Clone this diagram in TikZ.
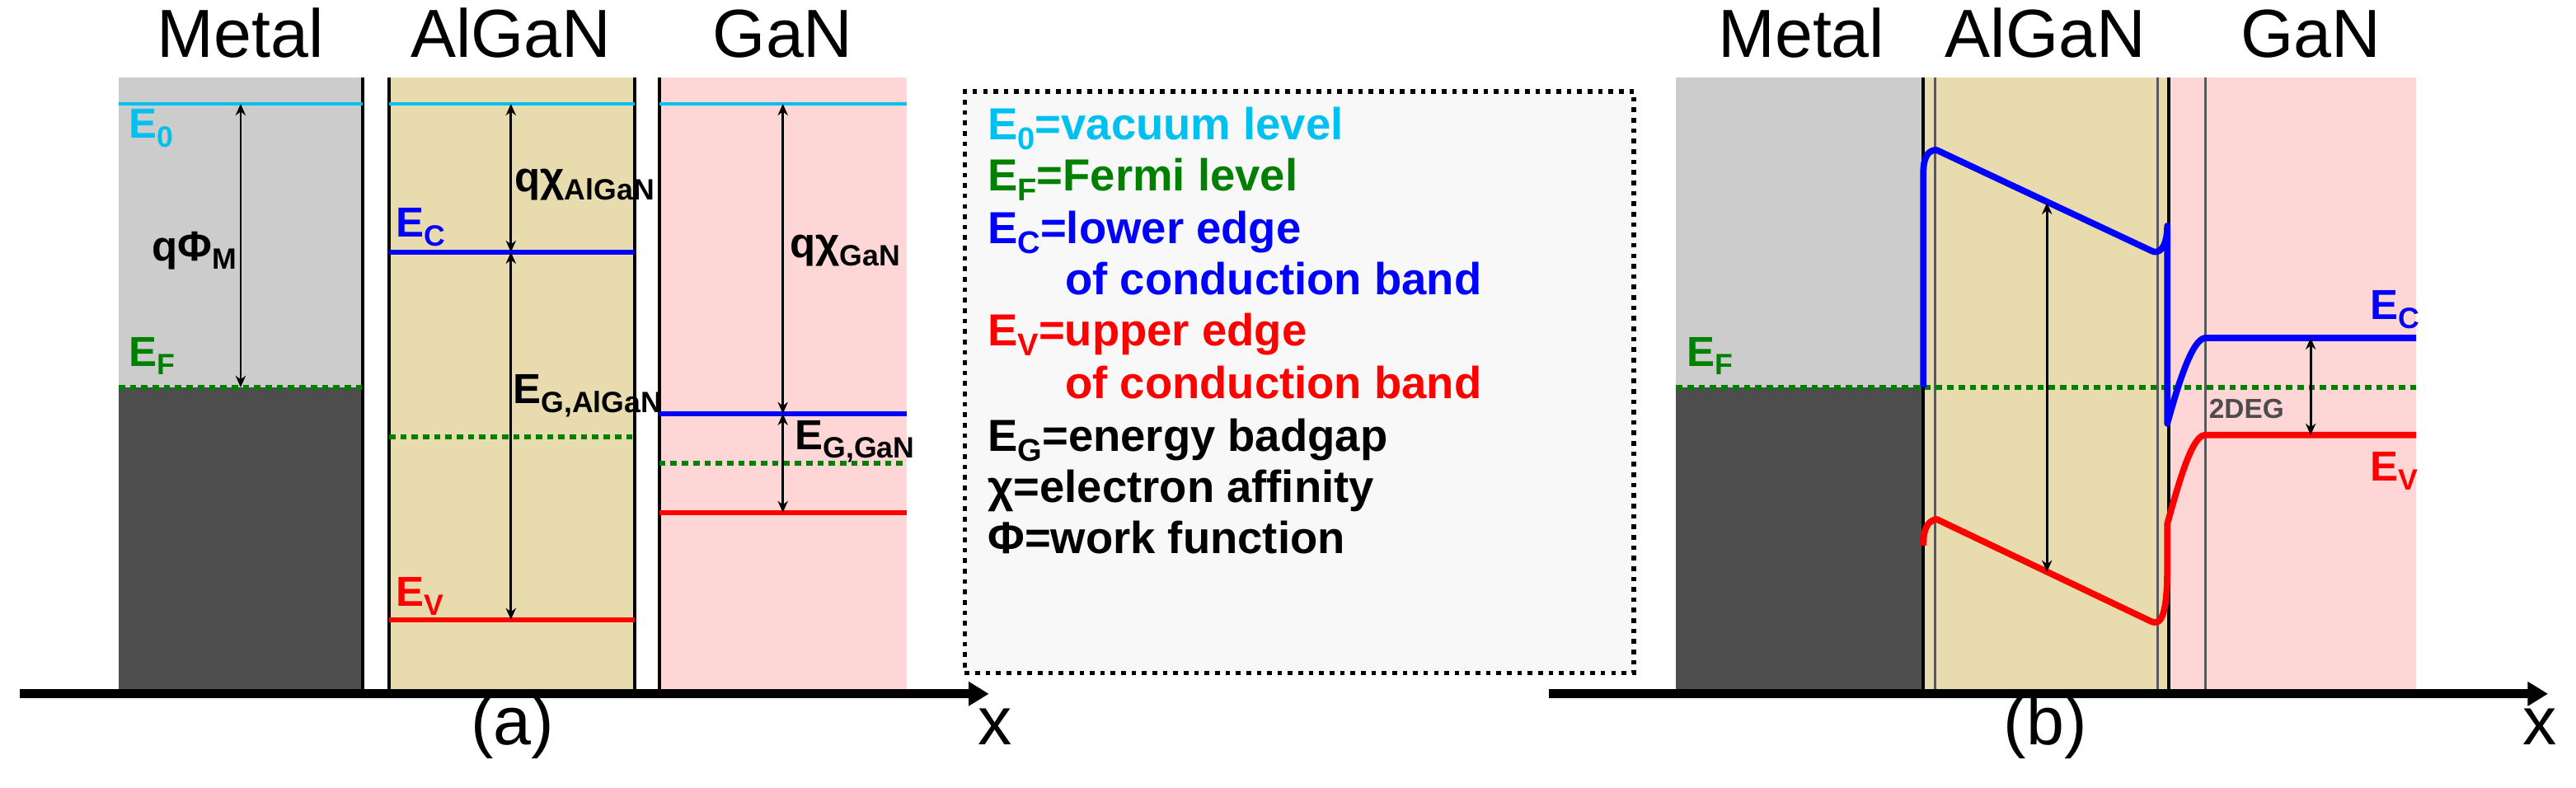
\documentclass[tikz,border=0pt]{standalone}
\usepackage{fontspec}
\setmainfont{Liberation Sans}
\usepackage{graphicx}
\usetikzlibrary{arrows.meta}
\definecolor{cE}{HTML}{00C0F0}
\definecolor{cF}{HTML}{008000}
\definecolor{metL}{HTML}{CCCCCC}
\definecolor{metD}{HTML}{4D4D4D}
\definecolor{alg}{HTML}{E8DCAF}
\definecolor{gan}{HTML}{FFD6D6}
\definecolor{leg}{HTML}{F8F8F8}
\newcommand{\lsb}[1]{\raisebox{-0.4ex}{\scalebox{0.7}{#1}}}
\tikzset{
 title/.style={font=\fontsize{23.5}{26}\selectfont, anchor=base},
 lab/.style={font=\bfseries\fontsize{14.5}{16}\selectfont, inner sep=0pt},
 band/.style={line width=1.8pt},
 curve/.style={line width=2.2pt, line join=round},
 fermi/.style={cF, line width=1.8pt, dash pattern=on 2.2pt off 1.7pt},
 sep/.style={black, line width=1.2pt},
 thin/.style={gray!70!black, line width=0.8pt},
 dim/.style={{Stealth[length=4pt,width=3.5pt]}-{Stealth[length=4pt,width=3.5pt]}, line width=0.8pt},
 axis/.style={line width=3pt, -{Triangle[length=7pt,width=8pt]}},
 legtxt/.style={font=\bfseries\fontsize{15.5}{18}\selectfont, anchor=base west, inner sep=0pt}
}
\begin{document}
\begin{tikzpicture}[x=0.02cm,y=-0.02cm]
\useasboundingbox (0,0) rectangle (1563,478);
% ---------- panel (a)
\fill[metL] (72,47) rectangle (220,235);
\fill[metD] (72,235) rectangle (220,420);
\fill[alg] (236,47) rectangle (385,420);
\fill[gan] (400,47) rectangle (550,420);
\draw[sep] (220,47) -- (220,420);
\draw[sep] (236,47) -- (236,420);
\draw[sep] (385,47) -- (385,420);
\draw[sep] (400,47) -- (400,420);
\node[title] (tMa) at (146,35) {Metal};
\node[title] (tAa) at (310,35) {AlGaN};
\node[title] (tGa) at (475,35) {GaN};
\draw[cE, line width=1.3pt] (72,63) -- (220,63) (236,63) -- (385,63) (400,63) -- (550,63);
\draw[fermi] (72,235) -- (220,235);
\draw[fermi] (236,265) -- (385,265);
\draw[fermi] (400,281) -- (550,281);
\draw[band, blue] (236,153) -- (385,153);
\draw[band, red] (236,376) -- (385,376);
\draw[band, blue] (400,251) -- (550,251);
\draw[band, red] (400,311) -- (550,311);
\coordinate (m0) at (146,63); \coordinate (mF) at (146,235);
\coordinate (a0) at (310,63); \coordinate (aC) at (310,153); \coordinate (aV) at (310,376);
\coordinate (g0) at (475,63); \coordinate (gC) at (475,251); \coordinate (gV) at (475,311);
\draw[dim] (m0) -- (mF);
\draw[dim] (a0) -- (aC);
\draw[dim] (aC) -- (aV);
\draw[dim] (g0) -- (gC);
\draw[dim] (gC) -- (gV);
\node[lab, cE, anchor=west] (lE0) at (78,78) {E\lsb{0}};
\node[lab, anchor=west] (lphi) at (92,152) {qΦ\lsb{M}};
\node[lab, cF, anchor=west] (lEF) at (78,216) {E\lsb{F}};
\node[lab, anchor=west] (lchiA) at (312,112) {qχ\lsb{AlGaN}};
\node[lab, blue, anchor=west] (lECa) at (240,138) {E\lsb{C}};
\node[lab, anchor=west] (lEGa) at (311,240) {E\lsb{G,AlGaN}};
\node[lab, red, anchor=west] (lEVa) at (240,362) {E\lsb{V}};
\node[lab, anchor=west] (lchiG) at (479,152) {qχ\lsb{GaN}};
\node[lab, anchor=west] (lEGg) at (482,268) {E\lsb{G,GaN}};
\coordinate (axa0) at (12,421); \coordinate (axa1) at (600,421);
\draw[axis] (axa0) -- (axa1);
\node[title] (xa) at (604,452) {x};
\node[title] (pa) at (311,452) {(a)};
% ---------- legend
\node[draw, dotted, line width=1.6pt, fill=leg, minimum width=406*0.02cm, minimum height=353*0.02cm, anchor=north west] (legend) at (584,54) {};
\node[legtxt, cE] (l1) at (599,85) {E\lsb{0}=vacuum level};
\node[legtxt, cF] (l2) at (599,116) {E\lsb{F}=Fermi level};
\node[legtxt, blue] (l3) at (599,148) {E\lsb{C}=lower edge};
\node[legtxt, blue] (l4) at (646,179) {of conduction band};
\node[legtxt, red] (l5) at (599,210) {E\lsb{V}=upper edge};
\node[legtxt, red] (l6) at (646,242) {of conduction band};
\node[legtxt] (l7) at (599,274) {E\lsb{G}=energy badgap};
\node[legtxt] (l8) at (599,305) {χ=electron affinity};
\node[legtxt] (l9) at (599,336) {Φ=work function};
% ---------- panel (b)
\fill[metL] (1017,47) rectangle (1167,235);
\fill[metD] (1017,235) rectangle (1167,420);
\fill[alg] (1167,47) rectangle (1316,420);
\fill[gan] (1316,47) rectangle (1466,420);
\draw[sep] (1167,47) -- (1167,420);
\draw[sep] (1316,47) -- (1316,420);
\draw[thin] (1174,47) -- (1174,420);
\draw[thin] (1309,47) -- (1309,420);
\draw[thin] (1338,47) -- (1338,420);
\node[title] (tMb) at (1093,35) {Metal};
\node[title] (tAb) at (1241,35) {AlGaN};
\node[title] (tGb) at (1402,35) {GaN};
\draw[fermi] (1017,235) -- (1466,235);
\draw[curve, blue] (1167,235) -- (1167,105) .. controls (1167,95) and (1170,91) .. (1175,91) -- (1305,152) .. controls (1310,155) and (1315,150) .. (1315,137) -- (1315,257) .. controls (1322,232) and (1330,206) .. (1338,205) -- (1466,205);
\draw[curve, red] (1167,331) .. controls (1167,320) and (1170,316) .. (1175,315) -- (1305,377) .. controls (1311,380) and (1315,374) .. (1315,345) -- (1315,318) .. controls (1324,285) and (1331,264) .. (1338,264) -- (1466,264);
\coordinate (bC1) at (1242,123); \coordinate (bV1) at (1242,347);
\coordinate (bC2) at (1402,205); \coordinate (bV2) at (1402,264);
\draw[dim] (bC1) -- (bV1);
\draw[dim] (bC2) -- (bV2);
\node[lab, cF, anchor=west] (lEFb) at (1023,216) {E\lsb{F}};
\node[lab, blue, anchor=west] (lECb) at (1438,188) {E\lsb{C}};
\node[lab, red, anchor=west] (lEVb) at (1438,286) {E\lsb{V}};
\node[font=\bfseries\fontsize{9.5}{10}\selectfont, text=gray!60!black, anchor=west, inner sep=0pt] (deg) at (1340,248) {2DEG};
\coordinate (axb0) at (940,421); \coordinate (axb1) at (1546,421);
\draw[axis] (axb0) -- (axb1);
\node[title] (xb) at (1541,452) {x};
\node[title] (pb) at (1241,452) {(b)};
\end{tikzpicture}
\end{document}
